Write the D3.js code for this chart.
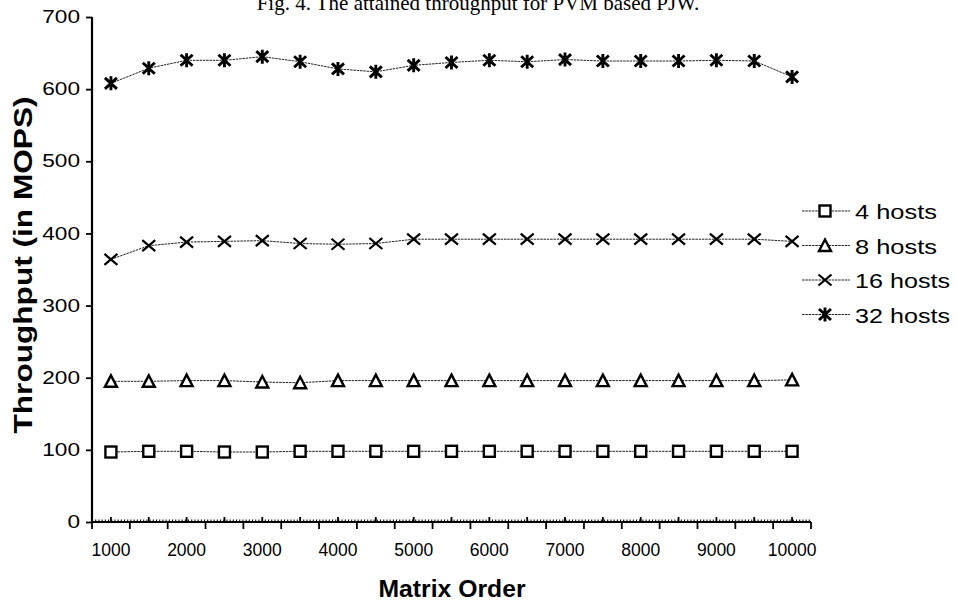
<!DOCTYPE html>
<html>
<head>
<meta charset="utf-8">
<script src="https://cdn.jsdelivr.net/npm/d3@7"></script>
<style>
  body { margin: 0; background: #fff; }
  svg { display: block; }
  text { font-family: "Liberation Sans", Arial, sans-serif; fill: #000; }
</style>
</head>
<body>
<svg id="chart" width="956" height="604"></svg>
<script>
// Matrix orders on the x axis (one category each)
const matrixOrders = [1000, 1500, 2000, 2500, 3000, 3500, 4000, 4500, 5000, 5500,
                      6000, 6500, 7000, 7500, 8000, 8500, 9000, 9500, 10000];
const xTickLabels = [1000, 2000, 3000, 4000, 5000, 6000, 7000, 8000, 9000, 10000];
const yTicks = [0, 100, 200, 300, 400, 500, 600, 700];

// Throughput (MOPS) per host count
const hosts4  = [97, 98, 98, 97, 97, 98, 98, 98, 98, 98, 98, 98, 98, 98, 98, 98, 98, 98, 98];
const hosts8  = [195, 195, 196, 196, 194, 193, 196, 196, 196, 196, 196, 196, 196, 196, 196, 196, 196, 196, 197];
const hosts16 = [364, 383, 388, 389, 390, 386, 385, 386, 392, 392, 392, 392, 392, 392, 392, 392, 392, 392, 389];
const hosts32 = [608, 629, 640, 640, 645, 638, 628, 624, 633, 637, 640, 638, 641, 639, 639, 639, 640, 639, 617];

const seriesNames = ["4 hosts", "8 hosts", "16 hosts", "32 hosts"];
const seriesValues = [hosts4, hosts8, hosts16, hosts32];
const seriesMarkers = ["square", "triangle", "cross", "asterisk"];

const svg = d3.select("#chart");
const margin = { left: 92, right: 145, top: 17, bottom: 82 };
const W = 956, H = 604;

const x = d3.scaleBand()
  .domain(matrixOrders)
  .range([margin.left, W - margin.right]);
const y = d3.scaleLinear()
  .domain([0, 700])
  .range([H - margin.bottom, margin.top]);

const cx = d => x(d) + x.bandwidth() / 2;

// Figure caption at the top edge
svg.append("text")
  .attr("x", 478).attr("y", 10)
  .attr("text-anchor", "middle")
  .style("font-family", "'Liberation Serif', 'Times New Roman', serif")
  .style("font-size", "21px")
  .text("Fig. 4. The attained throughput for PVM based PJW.");

// Y axis
const yAxis = svg.append("g")
  .attr("transform", `translate(${margin.left},0)`)
  .call(d3.axisLeft(y).tickValues(yTicks).tickSize(6).tickPadding(6).tickFormat(d3.format("d")));
yAxis.select(".domain").attr("stroke", "#000").attr("stroke-width", 2.2)
  .attr("d", `M0,${y(700)}V${y(0)}`);
yAxis.selectAll(".tick line").attr("stroke", "#000").attr("stroke-width", 1.8);
yAxis.selectAll(".tick text")
  .style("font-size", "17.5px")
  .style("font-family", "'Liberation Sans', Arial, sans-serif")
  .attr("textLength", d => String(d).length * 12.6)
  .attr("lengthAdjust", "spacingAndGlyphs");

// X axis: boundary ticks downward, category-centre ticks upward
const xAxisG = svg.append("g").attr("transform", `translate(0,${y(0)})`);
const x0 = x.range()[0], x1 = x.range()[1];
xAxisG.append("line")
  .attr("x1", x0).attr("x2", x1).attr("y1", 0).attr("y2", 0)
  .attr("stroke", "#000").attr("stroke-width", 2);
// fine hatching along the axis
xAxisG.append("line")
  .attr("x1", x0).attr("x2", x1).attr("y1", -1.5).attr("y2", -1.5)
  .attr("stroke", "#000").attr("stroke-width", 2)
  .attr("stroke-dasharray", "1 2.2");
const bounds = matrixOrders.map(d => x(d)).concat([x1]);
xAxisG.selectAll("line.bound").data(bounds).join("line")
  .attr("class", "bound")
  .attr("x1", d => d).attr("x2", d => d)
  .attr("y1", 0).attr("y2", 7)
  .attr("stroke", "#000").attr("stroke-width", 1.8);
xAxisG.selectAll("line.mid").data(matrixOrders).join("line")
  .attr("class", "mid")
  .attr("x1", d => cx(d)).attr("x2", d => cx(d))
  .attr("y1", 0).attr("y2", -5)
  .attr("stroke", "#000").attr("stroke-width", 1.8);
xAxisG.selectAll("text.xl").data(xTickLabels).join("text")
  .attr("class", "xl")
  .attr("x", d => cx(d)).attr("y", 34)
  .attr("text-anchor", "middle")
  .style("font-size", "17.5px")
  .text(d => d);

// Axis titles
svg.append("text")
  .attr("x", 452).attr("y", 597)
  .attr("text-anchor", "middle")
  .style("font-size", "23px").style("font-weight", "bold")
  .attr("textLength", 147).attr("lengthAdjust", "spacingAndGlyphs")
  .text("Matrix Order");
svg.append("text")
  .attr("transform", `translate(32,265) rotate(-90)`)
  .attr("text-anchor", "middle")
  .style("font-size", "26px").style("font-weight", "bold")
  .attr("textLength", 337).attr("lengthAdjust", "spacingAndGlyphs")
  .text("Throughput (in MOPS)");

// Marker drawing
function drawMarker(g, type) {
  const s = 5.5;
  if (type === "square") {
    g.append("rect").attr("x", -s).attr("y", -s).attr("width", 2 * s).attr("height", 2 * s)
      .attr("fill", "#fff").attr("stroke", "#000").attr("stroke-width", 2.4);
  } else if (type === "triangle") {
    g.append("path").attr("d", `M0,${-s - 0.5}L${s + 0.5},${s}L${-s - 0.5},${s}Z`)
      .attr("fill", "#fff").attr("stroke", "#000").attr("stroke-width", 2.4)
      .attr("stroke-linejoin", "miter");
  } else if (type === "cross") {
    g.append("path").attr("d", `M${-s - 1},${-s}L${s + 1},${s}M${-s - 1},${s}L${s + 1},${-s}`)
      .attr("stroke", "#000").attr("stroke-width", 2.2);
  } else if (type === "asterisk") {
    g.append("path").attr("d", `M${-s - 0.5},${-s}L${s + 0.5},${s}M${-s - 0.5},${s}L${s + 0.5},${-s}M0,${-s - 1.5}V${s + 1.5}`)
      .attr("stroke", "#000").attr("stroke-width", 2.9);
  }
}

const line = d3.line().x((d, i) => cx(matrixOrders[i])).y(d => y(d));

seriesValues.forEach((vals, k) => {
  const g = svg.append("g");
  g.append("path").datum(vals)
    .attr("d", line)
    .attr("fill", "none")
    .attr("stroke", "#222")
    .attr("stroke-width", 1)
    .attr("stroke-dasharray", "2.5 0.8");
  vals.forEach((v, i) => {
    const m = g.append("g").attr("transform", `translate(${cx(matrixOrders[i])},${y(v)})`);
    drawMarker(m, seriesMarkers[k]);
  });
});

// Legend
const legendWidths = [82, 82, 95, 95];
const legend = svg.append("g");
seriesNames.forEach((name, k) => {
  const ly = 211 + k * 34.5;
  const row = legend.append("g").attr("transform", `translate(0,${ly})`);
  row.append("line").attr("x1", 802).attr("x2", 850).attr("y1", 0).attr("y2", 0)
    .attr("stroke", "#222").attr("stroke-width", 1).attr("stroke-dasharray", "2.5 0.8");
  const m = row.append("g").attr("transform", "translate(825,0)");
  drawMarker(m, seriesMarkers[k]);
  row.append("text").attr("x", 855).attr("y", 8)
    .style("font-size", "21px")
    .attr("textLength", legendWidths[k]).attr("lengthAdjust", "spacingAndGlyphs")
    .text(name);
});
</script>
</body>
</html>
